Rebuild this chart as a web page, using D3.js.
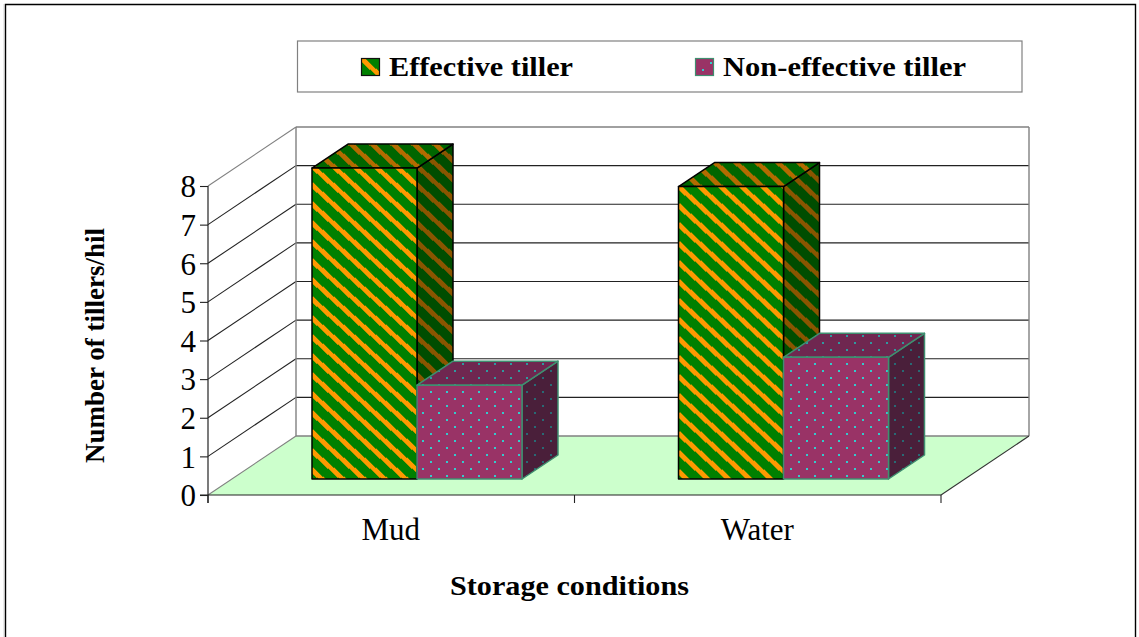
<!DOCTYPE html>
<html><head><meta charset="utf-8">
<script src="https://cdnjs.cloudflare.com/ajax/libs/d3/7.8.5/d3.min.js"></script>
<style>html,body{margin:0;padding:0;background:#fff}svg{display:block}text{font-family:"Liberation Serif",serif;fill:#000}</style>
</head><body><svg id="c" width="1139" height="637"></svg>
<script>
const categories = ["Mud", "Water"];
const seriesNames = ["Effective tiller", "Non-effective tiller"];
const effective = [8.05, 7.57];
const nonEffective = [2.43, 3.15];
const valueTicks = [0,1,2,3,4,5,6,7,8];
const xTitle = "Storage conditions";
const yTitle = "Number of tillers/hil";

const svg = d3.select("#c");
const defs = svg.append("defs");
const depth = {x:88, y:-59};          // wall depth
const bar = {x:36, y:-24, dx:24, dy:-16}; // bar depth & offset from the front plane
const y = d3.scaleLinear().domain([0,8]).range([495,186]);
const x0 = d3.scaleBand().domain(categories).range([208,941]);
const x1 = d3.scaleBand().domain(seriesNames).range([0,210]);
const barOffset = 80;
const stripePhase = [16.7, 9.6];

function stripes(id, bg, fg, phase){
  const p = defs.append("pattern").attr("id",id).attr("patternUnits","userSpaceOnUse")
    .attr("width",21).attr("height",19).attr("patternTransform",`translate(0,${phase})`);
  p.append("rect").attr("width",21).attr("height",19).attr("fill",bg);
  p.append("path").attr("fill",fg).attr("shape-rendering","crispEdges")
    .attr("d","M0,0L3.54,0L21,15.8L21,19L17.46,19L0,3.2ZM17.46,0L21,0L21,3.2ZM0,15.8L3.54,19L0,19Z");
}
function dots(id, bg, fg){
  const p = defs.append("pattern").attr("id",id).attr("patternUnits","userSpaceOnUse")
    .attr("width",16).attr("height",14).attr("patternTransform","translate(14,13)");
  p.append("rect").attr("width",16).attr("height",14).attr("fill",bg);
  p.append("rect").attr("x",0).attr("y",0).attr("width",2).attr("height",2).attr("fill",fg);
  p.append("rect").attr("x",8).attr("y",7).attr("width",2).attr("height",2).attr("fill",fg);
}
stripePhase.forEach((ph,i)=>{
  stripes("sF"+i,"#008000","#ff9900",ph);
  stripes("sT"+i,"#006600","#b36b00",ph);
  stripes("sS"+i,"#004d00","#8a5500",ph);
});
dots("dF","#993366","#33cccc");
dots("dT","#6f2750","#2f9aa0");
dots("dS","#4a1f3a","#286a75");

// frame: left, top and right edges (the bottom runs off the picture)
svg.append("path").attr("d","M5.5,640V4.5H1135.5V640").attr("fill","none").attr("stroke","#000").attr("stroke-width",1.4);
svg.append("line").attr("x1",4.2).attr("x2",4.2).attr("y1",4).attr("y2",637).attr("stroke","#bbb").attr("stroke-width",1);

// legend
svg.append("rect").attr("x",297.5).attr("y",41).attr("width",724.5).attr("height",51)
  .attr("fill","#fff").attr("stroke","#808080").attr("stroke-width",1.2);
const legend = [{n:seriesNames[0],sx:361.5,tx:389,w:184,f:"url(#sF0)",st:"#111"},{n:seriesNames[1],sx:695.5,tx:723,w:243,f:"url(#dF)",st:"#3f8f70"}];
legend.forEach(l=>{
  svg.append("rect").attr("x",l.sx).attr("y",58.5).attr("width",18).attr("height",17)
    .attr("fill",l.f).attr("stroke",l.st).attr("stroke-width",1.2);
  svg.append("text").attr("x",l.tx).attr("y",76).attr("font-size",28).attr("font-weight","bold")
    .attr("textLength",l.w).attr("lengthAdjust","spacingAndGlyphs").text(l.n);
});

// walls
const line = d3.line();
const bx = 208+depth.x, bxr = 941+depth.x;
svg.append("path").attr("d",line([[208,y(0)],[bx,y(0)+depth.y],[bxr,y(0)+depth.y],[941,y(0)]])+"Z").attr("fill","#ccffcc");
svg.selectAll(".g").data(valueTicks).join("line")
  .attr("x1",bx).attr("x2",bxr).attr("y1",d=>y(d)+depth.y).attr("y2",d=>y(d)+depth.y)
  .attr("stroke",d=>(d===8||d===0)?"#808080":"#222").attr("stroke-width",d=>(d===8||d===0)?1.4:1.1);
svg.selectAll(".s").data(valueTicks).join("line")
  .attr("x1",208).attr("x2",bx).attr("y1",d=>y(d)).attr("y2",d=>y(d)+depth.y)
  .attr("stroke",d=>(d===8||d===0)?"#808080":"#222").attr("stroke-width",1.1);
[bx,bxr].forEach(px=>svg.append("line").attr("x1",px).attr("x2",px).attr("y1",y(8)+depth.y).attr("y2",y(0)+depth.y)
  .attr("stroke","#808080").attr("stroke-width",1.4));
svg.append("line").attr("x1",941).attr("x2",bxr).attr("y1",y(0)).attr("y2",y(0)+depth.y).attr("stroke","#333").attr("stroke-width",1.1);

// bars
function drawBar(cat, name, v, fills, stroke){
  const l = x0(cat)+barOffset+bar.dx+x1(name), r = l+x1.bandwidth();
  const b = y(0)+bar.dy, t = b-(y(0)-y(v));
  const g = svg.append("g").attr("stroke",stroke).attr("stroke-width",1.5).attr("stroke-linejoin","round");
  g.append("path").attr("fill",fills[2]).attr("d",line([[r,t],[r+bar.x,t+bar.y],[r+bar.x,b+bar.y],[r,b]])+"Z");
  g.append("path").attr("fill",fills[1]).attr("d",line([[l,t],[l+bar.x,t+bar.y],[r+bar.x,t+bar.y],[r,t]])+"Z");
  g.append("rect").attr("x",l).attr("y",t).attr("width",r-l).attr("height",b-t).attr("fill",fills[0]);
}
categories.forEach((c,i)=>{
  drawBar(c,seriesNames[0],effective[i],[`url(#sF${i})`,`url(#sT${i})`,`url(#sS${i})`],"#000");
  drawBar(c,seriesNames[1],nonEffective[i],["url(#dF)","url(#dT)","url(#dS)"],"#3f8f70");
});

// axes
const yAxis = d3.axisLeft(y).tickValues(valueTicks).tickSize(8).tickPadding(4).tickFormat(d3.format("d"));
const ga = svg.append("g").attr("transform","translate(208,0)").call(yAxis);
ga.select(".domain").remove();
ga.selectAll("line").attr("stroke","#222").attr("stroke-width",1.1);
ga.selectAll("text").attr("font-size",31).attr("dy","0.35em").attr("font-family","Liberation Serif");
svg.append("line").attr("x1",208).attr("x2",208).attr("y1",y(8)).attr("y2",503).attr("stroke","#222").attr("stroke-width",1.2);
svg.append("line").attr("x1",200).attr("x2",941).attr("y1",y(0)).attr("y2",y(0)).attr("stroke","#222").attr("stroke-width",1.2);
[208,574.5,941].forEach(px=>svg.append("line").attr("x1",px).attr("x2",px).attr("y1",495).attr("y2",503).attr("stroke","#222").attr("stroke-width",1.1));
svg.selectAll(".cl").data(categories).join("text")
  .attr("x",d=>x0(d)+x0.bandwidth()/2 - 0.5).attr("y",540).attr("text-anchor","middle").attr("font-size",31).text(d=>d);
svg.append("text").attr("x",450).attr("y",595).attr("font-size",27).attr("font-weight","bold")
  .attr("textLength",239).attr("lengthAdjust","spacingAndGlyphs").text(xTitle);
svg.append("text").attr("transform","translate(104,463) rotate(-90)").attr("font-size",27).attr("font-weight","bold")
  .attr("textLength",235).attr("lengthAdjust","spacingAndGlyphs").text(yTitle);
</script></body></html>
